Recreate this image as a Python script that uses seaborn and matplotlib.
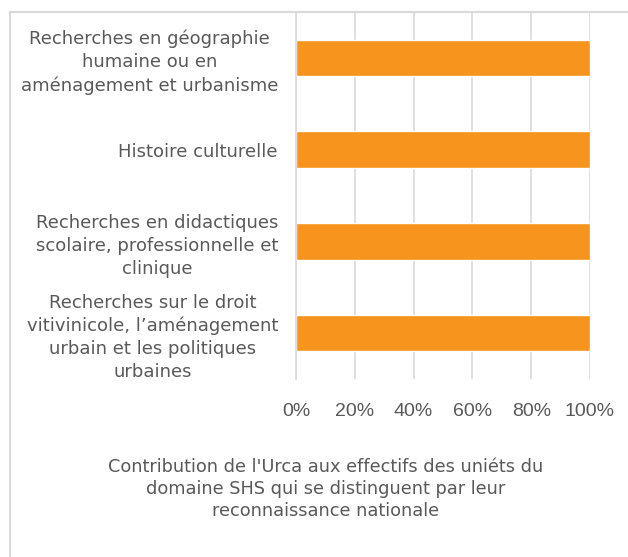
import numpy as np
import pandas as pd
import matplotlib
matplotlib.use('Agg')
import matplotlib.pyplot as plt
import seaborn as sns
from matplotlib.lines import Line2D
from matplotlib.ticker import PercentFormatter

# data
categories = [
    'Recherches en géographie\nhumaine ou en\naménagement et urbanisme',
    'Histoire culturelle',
    'Recherches en didactiques\nscolaire, professionnelle et\nclinique',
    'Recherches sur le droit\nvitivinicole, l\u2019aménagement\nurbain et les politiques\nurbaines',
]
values = [100, 100, 100, 100]
x_ticks = [0, 20, 40, 60, 80, 100]
title = ("Contribution de l'Urca aux effectifs des uniéts du\n"
         "domaine SHS qui se distinguent par leur\n"
         "reconnaissance nationale")

orange = '#F7941D'
grey_txt = '#595959'
grid_col = '#D9D9D9'

sns.set_style('white')
plt.rcParams['font.family'] = ['DejaVu Sans']

df = pd.DataFrame({'cat': categories, 'val': values})

fig = plt.figure(figsize=(6.28, 5.57), dpi=100)
ax = fig.add_axes([296 / 628, 1 - 379 / 557, 294 / 628, 367 / 557])

sns.barplot(data=df, x='val', y='cat', orient='h', color=orange,
            width=0.4, saturation=1, ax=ax)

ax.set_xlim(0, 100)
ax.set_xticks(x_ticks)
ax.xaxis.set_major_formatter(PercentFormatter(decimals=0))
ax.grid(axis='x', color=grid_col, linewidth=1.2)
ax.set_axisbelow(True)
for s in ['top', 'right', 'bottom']:
    ax.spines[s].set_visible(False)
ax.spines['left'].set_color(grid_col)
ax.spines['left'].set_linewidth(1.2)
ax.set_xlabel('')
ax.set_ylabel('')
ax.tick_params(axis='x', length=0, pad=17.5, labelsize=14, labelcolor=grey_txt)
ax.tick_params(axis='y', length=0, pad=13, labelcolor=grey_txt)
for lab in ax.get_xticklabels():
    lab.set_fontfamily('Liberation Sans')
for lab in ax.get_yticklabels():
    lab.set_fontsize(13)
    lab.set_multialignment('center')
    lab.set_linespacing(1.35)

fig.text(326 / 628, 1 - 489 / 557, title, ha='center', va='center',
         fontsize=12.8, color=grey_txt, linespacing=1.32)

# chart frame (cropped on the right and bottom in the reference)
x0, y0 = 9.5 / 628, 1 - 12 / 557
fig.add_artist(Line2D([x0, x0], [0, y0], transform=fig.transFigure,
                      color=grid_col, linewidth=1.5))
fig.add_artist(Line2D([x0, 1.05], [y0, y0], transform=fig.transFigure,
                      color=grid_col, linewidth=1.5))

fig.savefig('out.png', dpi=100)
